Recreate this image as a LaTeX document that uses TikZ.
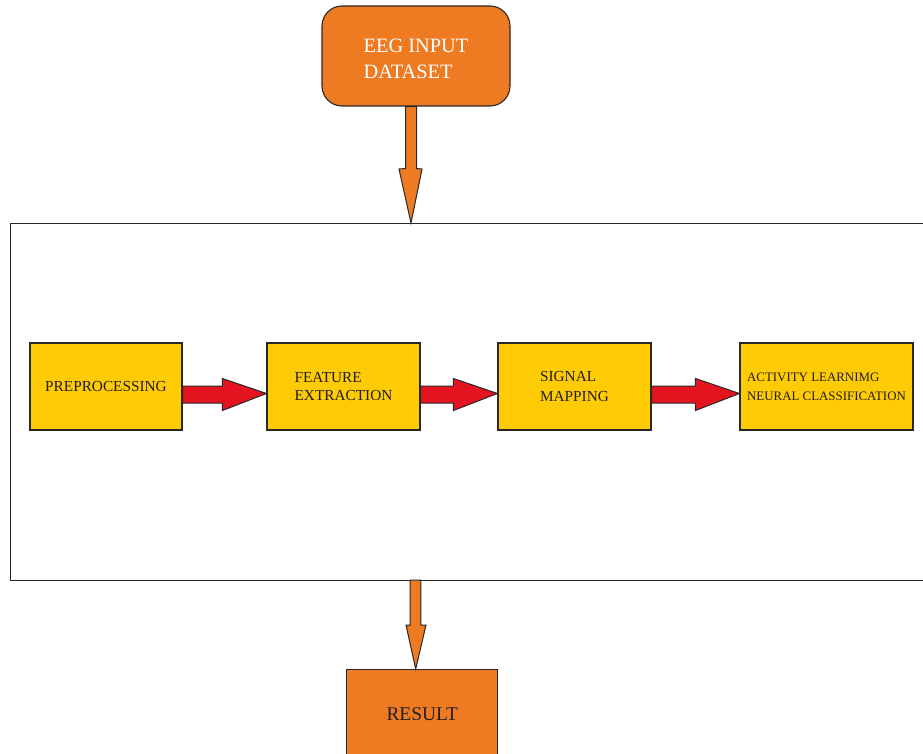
\documentclass[tikz,border=0pt]{standalone}
\usepackage{fontspec}
\setmainfont{Liberation Serif}
\usetikzlibrary{calc}
\definecolor{orangeF}{RGB}{238,123,34}
\definecolor{yellowF}{RGB}{255,203,5}
\definecolor{redF}{RGB}{227,20,31}
\definecolor{lineC}{RGB}{40,40,40}
\definecolor{txtC}{RGB}{35,31,32}
\tikzset{
  box/.style={draw=lineC, line width=1.1pt, fill=yellowF, minimum width=152pt, minimum height=87pt,
    inner sep=0pt, align=left, text=txtC, font=\fontsize{15.3}{18.5}\selectfont},
  redarrow/.style={draw=lineC, line width=1pt, fill=redF},
  orarrow/.style={draw=lineC, line width=1pt, fill=orangeF},
}
\begin{document}
\begin{tikzpicture}[x=1pt,y=-1pt]
\useasboundingbox (0,0) rectangle (923,754);
% frame
\node[draw=lineC, line width=1.1pt, minimum width=930pt, minimum height=357pt, inner sep=0pt, anchor=north west] (frame) at (10,223) {};
% top box
\node[draw=lineC, line width=1.1pt, fill=orangeF, rounded corners=20pt, minimum width=188pt, minimum height=100pt,
  inner sep=0pt, text=white, font=\fontsize{20.4}{26}\selectfont] (eeg) at (416,56)
  {\raisebox{0pt}[\dimexpr\height+9pt\relax][\depth]{\begin{tabular}{@{}l@{}}EEG INPUT\\DATASET\end{tabular}}};
% boxes
\node[box] (p1) at (106,386.5) {PREPROCESSING};
\node[box, minimum width=153pt] (p2) at (343.5,386.5) {FEATURE\\EXTRACTION};
\node[box, minimum width=153pt] (p3) at (574.5,386.5) {SIGNAL\\[1pt]MAPPING};
\node[box, minimum width=173pt, font=\fontsize{12.9}{19}\selectfont] (p4) at (826.5,386.5) {ACTIVITY LEARNIMG\\NEURAL CLASSIFICATION};
% result
\node[draw=lineC, line width=1.1pt, fill=orangeF, minimum width=151pt, minimum height=90pt, inner sep=0pt,
  text=txtC, font=\fontsize{19.4}{22}\selectfont, anchor=north] (res) at (422.3,669) {RESULT};
% red arrows
\foreach \a/\b in {p1/p2, p2/p3, p3/p4}{
  \draw[redarrow] ($(\a.east)+(0,-0.5)$) -- ($(\b.west)+(-44,-0.5)$) -- ($(\b.west)+(-44,-8)$) -- ($(\b.west)+(0,7)$)
    -- ($(\b.west)+(-44,24)$) -- ($(\b.west)+(-44,16.5)$) -- ($(\a.east)+(0,16.5)$) -- cycle;
}
% top arrow
\coordinate (inTip) at (411,223);
\draw[orarrow] ($(eeg.south)+(-10.3,0)$) -- ($(eeg.south)+(-10.3,62)$) -- ($(inTip)+(-12,-54)$) -- (inTip)
  -- ($(inTip)+(11,-54)$) -- ($(eeg.south)+(0.7,62)$) -- ($(eeg.south)+(0.7,0)$) -- cycle;
% bottom arrow
\coordinate (outTail) at (415.5,580);
\draw[orarrow] ($(outTail)+(-5.4,0)$) -- ($(outTail)+(-5.4,45)$) -- ($(res.north)+(-16.3,-44)$) -- ($(res.north)+(-6.6,0)$)
  -- ($(res.north)+(3.7,-44)$) -- ($(outTail)+(5.3,45)$) -- ($(outTail)+(5.3,0)$) -- cycle;
\end{tikzpicture}
\end{document}
